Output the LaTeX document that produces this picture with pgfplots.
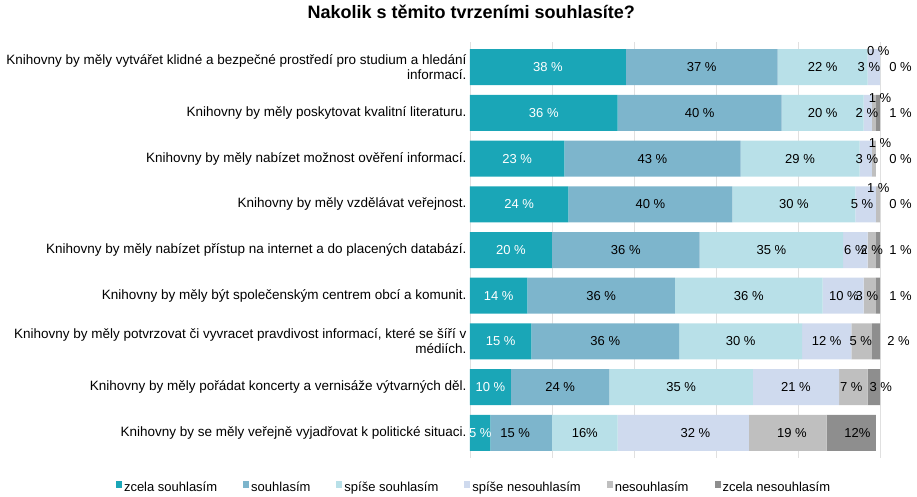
\documentclass[border=0pt]{standalone}
\usepackage{pgfplots}
\pgfplotsset{compat=1.18}
\usepackage{fontspec}
\setmainfont{Liberation Sans}

\definecolor{c1}{HTML}{1AA6B7}
\definecolor{c2}{HTML}{7DB5CC}
\definecolor{c3}{HTML}{B8E0E8}
\definecolor{c4}{HTML}{CFDAEE}
\definecolor{c5}{HTML}{BFBFBF}
\definecolor{c6}{HTML}{8E8E8E}

\pgfplotsset{
  base/.style={
    scale only axis, width=410pt, height=416pt,
    xmin=0, xmax=100, ymin=-0.55, ymax=8.55, y dir=reverse,
    clip=false, at={(0,0)}, anchor=south west,
  },
  lbl/.style={draw=none, mark=none, nodes near coords, point meta=explicit symbolic,
    nodes near coords align=center,
    every node near coord/.append style={inner sep=0pt, font=\fontsize{13}{15}\selectfont}},
}

\begin{document}
\begin{tikzpicture}
\begin{axis}[base,
  xbar stacked, bar width=36pt,
  axis line style={draw=none}, major tick length=0pt,
  xtick={0,20,...,100}, xticklabels={},
  xmajorgrids, grid style={black!12, line width=0.6pt},
  ytick={0,...,8},
  yticklabels={
    {Knihovny by měly vytvářet klidné a bezpečné prostředí pro studium a hledání\\informací.},
    {Knihovny by měly poskytovat kvalitní literaturu.},
    {Knihovny by měly nabízet možnost ověření informací.},
    {Knihovny by měly vzdělávat veřejnost.},
    {Knihovny by měly nabízet přístup na internet a do placených databází.},
    {Knihovny by měly být společenským centrem obcí a komunit.},
    {Knihovny by měly potvrzovat či vyvracet pravdivost informací, které se šíří v\\médiích.},
    {Knihovny by měly pořádat koncerty a vernisáže výtvarných děl.},
    {Knihovny by se měly veřejně vyjadřovat k politické situaci.}},
  yticklabel style={align=right, font=\fontsize{13.5}{15}\selectfont},
  title={Nakolik s těmito tvrzeními souhlasíte?},
  title style={at={(axis description cs:0.003,1)}, anchor=center, yshift=24pt,
    font=\bfseries\fontsize{18}{20}\selectfont},
  legend style={draw=none, at={(0.01,-0.07)}, anchor=center, legend columns=6,
    font=\fontsize{13}{15}\selectfont,
    /tikz/every even column/.append style={column sep=24pt}},
  legend image code/.code={\fill[#1] (0pt,-1pt) rectangle (6pt,6pt);},
]
\addplot[fill=c1, draw=none] coordinates {(38,0)(36,1)(23,2)(24,3)(20,4)(14,5)(15,6)(10,7)(5,8)};
\addplot[fill=c2, draw=none] coordinates {(37,0)(40,1)(43,2)(40,3)(36,4)(36,5)(36,6)(24,7)(15,8)};
\addplot[fill=c3, draw=none] coordinates {(22,0)(20,1)(29,2)(30,3)(35,4)(36,5)(30,6)(35,7)(16,8)};
\addplot[fill=c4, draw=none] coordinates {(3,0)(2,1)(3,2)(5,3)(6,4)(10,5)(12,6)(21,7)(32,8)};
\addplot[fill=c5, draw=none] coordinates {(0,0)(1,1)(1,2)(1,3)(2,4)(3,5)(5,6)(7,7)(19,8)};
\addplot[fill=c6, draw=none] coordinates {(0,0)(1,1)(0,2)(0,3)(1,4)(1,5)(2,6)(3,7)(12,8)};
\legend{zcela souhlasím, souhlasím, spíše souhlasím, spíše nesouhlasím, nesouhlasím, zcela nesouhlasím}
\end{axis}

\begin{axis}[base, hide axis]
% white labels of the first segment
\addplot[lbl, every node near coord/.append style={text=white}] coordinates {
  (19,0)[38 \%] (18,1)[36 \%] (11.5,2)[23 \%] (12,3)[24 \%] (10,4)[20 \%]
  (7,5)[14 \%] (7.5,6)[15 \%] (5,7)[10 \%] (2.5,8)[5 \%]};
% labels inside the bars
\addplot[lbl] coordinates {
  (56.5,0)[37 \%] (86,0)[22 \%] (97.3,0)[3 \%]
  (56,1)[40 \%] (86,1)[20 \%] (96.8,1)[2 \%]
  (44.5,2)[43 \%] (80.5,2)[29 \%] (96.8,2)[3 \%]
  (44,3)[40 \%] (79,3)[30 \%] (95.6,3)[5 \%]
  (38,4)[36 \%] (73.5,4)[35 \%] (94,4)[6 \%] (98,4)[2 \%]
  (32,5)[36 \%] (68,5)[36 \%] (91.2,5)[10 \%] (96.8,5)[3 \%]
  (33,6)[36 \%] (66,6)[30 \%] (87,6)[12 \%] (95.3,6)[5 \%]
  (22,7)[24 \%] (51.5,7)[35 \%] (79.5,7)[21 \%] (93,7)[7 \%] (100.2,7)[3 \%]
  (11,8)[15 \%] (28,8)[16\%] (55,8)[32 \%] (78.5,8)[19 \%] (94.5,8)[12\%]};
% small values above and beside the bars
\addplot[lbl] coordinates {
  (99.6,-0.36)[0 \%] (100,0.67)[1 \%] (100,1.65)[1 \%] (99.6,2.65)[1 \%]
  (105,0)[0 \%] (105,1)[1 \%] (105,2)[0 \%] (105,3)[0 \%]
  (105,4)[1 \%] (105,5)[1 \%] (104.5,6)[2 \%]};
\end{axis}
\path (-470pt,-35pt) rectangle (447pt,458pt);
\end{tikzpicture}
\end{document}
